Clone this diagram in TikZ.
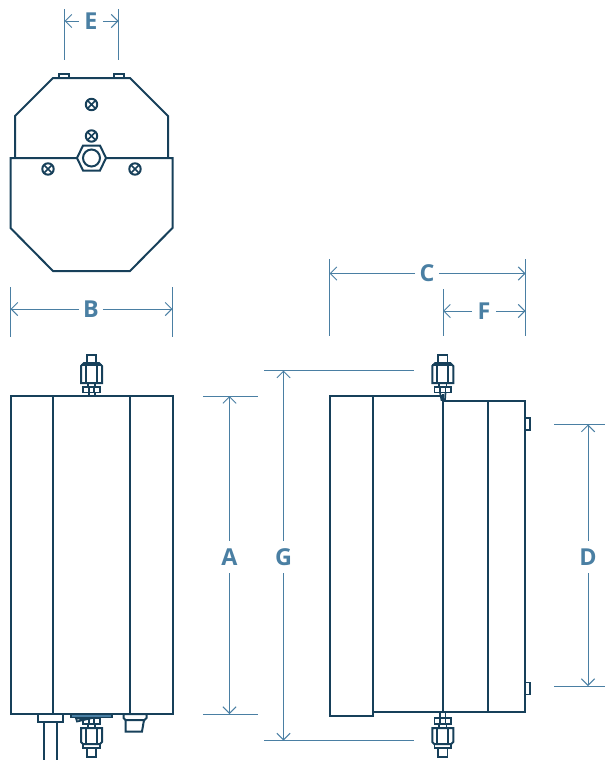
\documentclass[tikz,border=0pt]{standalone}
\usepackage{fontspec}
\usepackage{xcolor}
\setmainfont{Open Sans}
\usetikzlibrary{arrows.meta}
\definecolor{bodyblue}{HTML}{17405A}
\definecolor{dimblue}{HTML}{4A7FA3}
\tikzset{
  part/.style={draw=bodyblue,line width=1.5pt,line join=miter},
  thin part/.style={draw=bodyblue,line width=1.3pt},
  extline/.style={draw=dimblue,line width=0.7pt},
  dimarrow/.style={extline,-{Straight Barb[length=5pt,width=10pt,line width=0.7pt]}},
  dimlabel/.style={text=dimblue,font=\fontsize{17.5}{19}\selectfont\bfseries,inner sep=0pt,minimum width=23pt*0.75,minimum height=30pt*0.75},
  screw/.pic={
    \draw[part,fill=white] (0,0) circle (5.7);
    \draw[thin part] (-4,-4) -- (4,4) (-4,4) -- (4,-4);
  },
  fittop/.pic={
    \draw[thin part,fill=white] (-4.7,-33) rectangle (4.7,-41);
    \draw[part,fill=white] (-10.5,-13) -- (-10.5,-30) -- (-7.5,-33) -- (7.5,-33) -- (10.5,-30) -- (10.5,-13) -- cycle;
    \draw[thin part] (-5.5,-13) -- (-5.5,-33) (5.5,-13) -- (5.5,-33) (-10.5,-31) -- (10.5,-31);
    \draw[thin part] (-3.7,-9) -- (-3.7,-13) (3.7,-9) -- (3.7,-13);
    \draw[thin part,fill=white] (-8.2,-3.5) rectangle (8.2,-9);
    \draw[thin part] (-2.8,-3.5) -- (-2.8,-9) (2.8,-3.5) -- (2.8,-9);
  },
  fitbottom/.pic={
    \draw[thin part,fill=white] (-8.2,4) rectangle (8.2,10);
    \draw[thin part] (-2.8,4) -- (-2.8,10) (2.8,4) -- (2.8,10);
    \draw[thin part] (-3.7,10) -- (-3.7,14) (3.7,10) -- (3.7,14);
    \draw[part,fill=white] (-10.5,14) -- (-10.5,28) -- (-8.5,30) -- (8.5,30) -- (10.5,28) -- (10.5,14) -- cycle;
    \draw[thin part] (-5.5,14) -- (-5.5,30) (5.5,14) -- (5.5,30);
    \draw[thin part] (-8.2,30) rectangle (8.2,34);
    \draw[thin part] (-4.7,34) rectangle (4.7,43);
  }
}
\begin{document}
\begin{tikzpicture}[x=0.75pt,y=-0.75pt]
\useasboundingbox (0,0) rectangle (605,760);

% top view
\draw[part] (15,158) -- (15,116) -- (53,78) -- (130,78) -- (168,116) -- (168,158);
\draw[thin part] (59,78) -- (59,74) -- (69,74) -- (69,78);
\draw[thin part] (114,78) -- (114,74) -- (124,74) -- (124,78);
\draw[part] (10.5,158) -- (172.5,158) -- (172.5,228) -- (130,271) -- (53,271) -- (10.5,228) -- cycle;
\pic at (91.5,104.5) {screw};
\pic at (91.5,136) {screw};
\pic at (48,169) {screw};
\pic at (135,169) {screw};
\draw[part,fill=white] (77,158) -- (83,145.5) -- (100,145.5) -- (106,158) -- (100,170.5) -- (83,170.5) -- cycle;
\draw[part] (91.5,158) circle (8.5);

% front view
\draw[part] (10.5,396) rectangle (172.5,714);
\draw[part] (53,396) -- (53,714);
\draw[part] (130,396) -- (130,714);
\pic at (91.5,396) {fittop};
\draw[part] (91.5,396) +(-3,-3.5) -- +(-3,0) +(3,-3.5) -- +(3,0);
\pic at (91.5,714) {fitbottom};
\draw[thin part,fill=dimblue] (71,714) rectangle (112,717.5);
\draw[thin part] (76,718.5) -- (77,721.5) -- (88,719) -- cycle;
\draw[part,fill=white] (38,714) rectangle (63,721.5);
\draw[part] (44,721.5) -- (44,760);
\draw[part] (57,721.5) -- (57,760);
\draw[part] (123.5,714) -- (146.5,714) -- (146.5,718) -- (144.5,720) -- (125.5,720) -- (123.5,718) -- cycle;
\draw[part] (125.5,720) -- (125.5,731.5) -- (142,731.5) -- (144,720);

% side view
\draw[part] (330,396) rectangle (372.5,716);
\draw[part] (372.5,396) -- (442.5,396);
\draw[part] (372.5,712) -- (525,712) -- (525,400.5) -- (442.5,400.5);
\draw[part] (488,400.5) -- (488,712);
\draw[part] (442.8,394) -- (442.8,712);
\draw[thin part] (525,418) rectangle (530,430);
\draw[thin part] (525,682.5) rectangle (530,694.5);
\pic at (442.8,396) {fittop};
\draw[thin part] (440,392.5) -- (441.5,400) -- (445,400) -- (445.5,392.5);
\pic at (442.8,714) {fitbottom};
\draw[thin part] (440,712) -- (440,718) (445.5,712) -- (445.5,718);

% extension lines
\draw[extline] (64.5,9) -- (64.5,60) (118.5,9) -- (118.5,60);
\draw[extline] (10.5,287) -- (10.5,337) (172.5,287) -- (172.5,337);
\draw[extline] (329.5,259) -- (329.5,336) (525.5,259) -- (525.5,336) (443,289) -- (443,336);
\draw[extline] (203,396) -- (258,396) (203,714) -- (258,714);
\draw[extline] (264,370.5) -- (414,370.5) (264,740.5) -- (414,740.5);
\draw[extline] (554,424.5) -- (605,424.5) (554,686) -- (605,686);

% dimensions
\node[dimlabel] (labE) at (91,21) {E};
\node[dimlabel] (labB) at (91,309) {B};
\node[dimlabel] (labC) at (427,273.5) {C};
\node[dimlabel] (labF) at (484,311) {F};
\node[dimlabel,minimum height=32pt*0.75] (labA) at (229.5,557) {A};
\node[dimlabel,minimum height=32pt*0.75] (labG) at (283.5,557) {G};
\node[dimlabel,minimum height=32pt*0.75] (labD) at (588,557) {D};
\coordinate (eL) at (64.5,21);
\coordinate (eR) at (118.5,21);
\coordinate (bL) at (10.5,309);
\coordinate (bR) at (172.5,309);
\coordinate (cL) at (329.5,273.5);
\coordinate (cR) at (525.5,273.5);
\coordinate (fL) at (443,311);
\coordinate (fR) at (525.5,311);
\coordinate (aT) at (229.5,396);
\coordinate (aB) at (229.5,714);
\coordinate (gT) at (283.5,370.5);
\coordinate (gB) at (283.5,740.5);
\coordinate (dT) at (588,424.5);
\coordinate (dB) at (588,686);
\foreach \lab/\tipa/\tipb in {labE/eL/eR,labB/bL/bR,labC/cL/cR,labF/fL/fR,labA/aT/aB,labG/gT/gB,labD/dT/dB}{
  \draw[dimarrow] (\lab) -- (\tipa);
  \draw[dimarrow] (\lab) -- (\tipb);
}
\end{tikzpicture}
\end{document}
